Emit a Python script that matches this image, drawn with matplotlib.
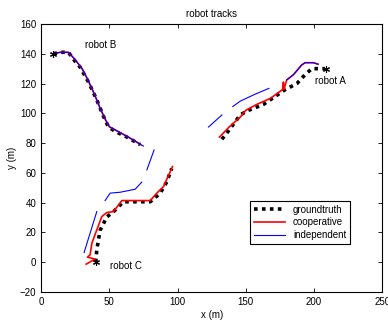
import matplotlib
matplotlib.use("Agg")
import matplotlib.pyplot as plt

# robot A
gt_a_x = [132.5, 138, 146, 152, 163, 171, 179, 187.5, 193.5, 198.5, 204, 208]
gt_a_y = [82.6, 89, 99, 102, 106, 111, 116, 120, 126, 130, 130, 130]
co_a_x = [130.7, 138, 146, 150, 158, 168, 177, 177.6, 178, 180, 185, 191, 193.5, 199.6, 203]
co_a_y = [84, 91, 97.5, 102, 106, 110, 116, 121, 116, 122.4, 126, 132.5, 134, 134, 133]
in_a_segs = [
    ([122.7, 132.5], [90.8, 98.9]),
    ([140.5, 146, 156, 167], [104.6, 108.2, 112.5, 116.8]),
    ([180, 185, 191, 193.5, 199.6, 203], [122.4, 126, 132.5, 134, 134, 133]),
]

# robot B
gt_b_x = [9, 14, 20, 24, 28.6, 34.7, 40.8, 45.7, 49.3, 54, 63, 72.6]
gt_b_y = [140, 141, 141, 136, 131, 121, 109, 98, 91, 88, 84, 79]
co_b_x = [9, 14, 20, 25, 30, 34, 39, 43, 47, 50, 56, 64, 73]
co_b_y = [140, 141, 141, 136, 130, 123, 113, 104, 96, 91, 88, 84, 79]
in_b_x = [9, 14, 20, 25, 30, 34, 39, 43, 47, 50, 56, 64, 75]
in_b_y = [140, 141, 141, 136, 130, 123, 113, 104, 96, 91, 88, 84, 78]

# robot C
gt_c_x = [40, 40.8, 42, 43.3, 48.2, 53, 60.3, 70, 80, 87.2, 92.1, 95.7]
gt_c_y = [0, 8.2, 15, 21.6, 30.5, 33.9, 40.6, 40.6, 40.6, 46.3, 54, 63]
co_c_x = [33, 39.6, 34, 35.9, 37.2, 40.8, 44.5, 48.2, 53, 59.2, 70, 80, 84.8, 89.7, 96.3]
co_c_y = [-1.3, 2.1, 3.4, 5, 12.8, 21.7, 30.7, 33.4, 34, 41.4, 41.4, 41.4, 46.4, 50.8, 64.2]
in_c_segs = [
    ([31.5, 40.8], [6.5, 34]),
    ([46.9, 50.6, 57.9, 68.9, 73.8], [41.4, 46.4, 47, 49, 53.8]),
    ([77.5, 82.8], [62, 75.4]),
]

starts_x = [209, 9, 40]
starts_y = [130, 140, 0]

labels = [("robot A", 201, 122), ("robot B", 32, 146), ("robot C", 50.6, -2.4)]

plt.rcParams['font.family'] = ['Liberation Sans', 'DejaVu Sans']
plt.rcParams['font.size'] = 7

fig = plt.figure(figsize=(3.88, 3.2), dpi=100)
ax = fig.add_axes([0.106, 0.0875, 0.879, 0.8375])

gt_style = dict(color='black', linestyle=(0, (1, 1.2)), linewidth=2.6)
ax.plot(gt_a_x, gt_a_y, label='groundtruth', **gt_style)
ax.plot(gt_b_x, gt_b_y, **gt_style)
ax.plot(gt_c_x, gt_c_y, **gt_style)

ax.plot(co_a_x, co_a_y, color='red', linewidth=1.2, label='cooperative')
ax.plot(co_b_x, co_b_y, color='red', linewidth=1.2)
ax.plot(co_c_x, co_c_y, color='red', linewidth=1.2)

first = True
for sx, sy in in_a_segs + [(in_b_x, in_b_y)] + in_c_segs:
    ax.plot(sx, sy, color='blue', linewidth=0.8,
            label='independent' if first else None)
    first = False

ax.plot(starts_x, starts_y, linestyle='none', marker=(6, 2, 0),
        markersize=5, color='black', markeredgewidth=0.8)

for txt, tx, ty in labels:
    ax.text(tx, ty, txt, fontsize=7, va='center', ha='left')

ax.set_xlim(0, 250)
ax.set_ylim(-20, 160)
ax.set_xticks([0, 50, 100, 150, 200, 250])
ax.set_yticks([-20, 0, 20, 40, 60, 80, 100, 120, 140, 160])
ax.tick_params(direction='in', top=True, right=True, length=3, width=0.6)
for s in ax.spines.values():
    s.set_linewidth(0.8)

ax.set_title('robot tracks', fontsize=7, pad=5)
ax.set_xlabel('x (m)', labelpad=2)
ax.set_ylabel('y (m)', labelpad=2)

leg = ax.legend(loc='lower right', bbox_to_anchor=(0.92, 0.16), fancybox=False,
                edgecolor='black', framealpha=1, handlelength=3.2,
                borderpad=0.4, labelspacing=0.3, fontsize=7)
leg.get_frame().set_linewidth(0.8)

fig.savefig('out.png', dpi=100)
